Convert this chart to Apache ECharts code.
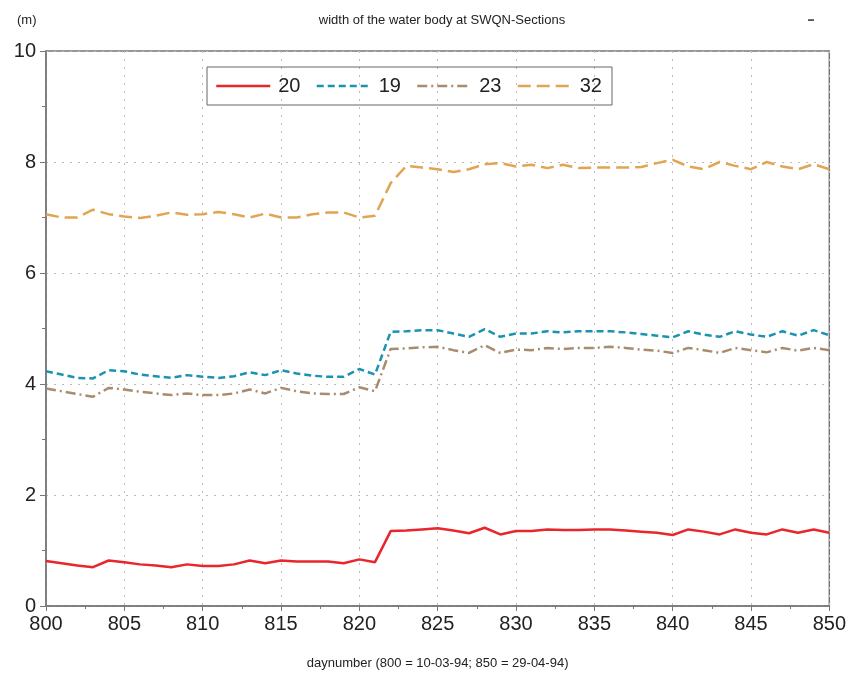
<!DOCTYPE html>
<html>
<head>
<meta charset="utf-8">
<script src="https://cdn.jsdelivr.net/npm/echarts@6/dist/echarts.min.js"></script>
<style>
  html, body { margin: 0; padding: 0; background: #fff; }
  #chart { width: 849px; height: 680px; }
</style>
</head>
<body>
<div id="chart"></div>
<script>
const days = [];
for (let d = 800; d <= 850; d++) days.push(d);

const s20 = [0.81, 0.77, 0.73, 0.70, 0.82, 0.79, 0.75, 0.73, 0.70, 0.75,
  0.72, 0.72, 0.75, 0.82, 0.77, 0.82, 0.80, 0.80, 0.80, 0.77,
  0.84, 0.79, 1.35, 1.36, 1.38, 1.40, 1.36, 1.31, 1.41, 1.29,
  1.35, 1.35, 1.38, 1.37, 1.37, 1.38, 1.38, 1.36, 1.34, 1.32,
  1.28, 1.38, 1.34, 1.29, 1.38, 1.32, 1.29, 1.38, 1.32, 1.38, 1.32];

const s19 = [4.23, 4.17, 4.11, 4.10, 4.25, 4.23, 4.17, 4.14, 4.11, 4.16,
  4.13, 4.11, 4.14, 4.21, 4.16, 4.25, 4.19, 4.15, 4.13, 4.13,
  4.27, 4.17, 4.94, 4.95, 4.97, 4.97, 4.91, 4.85, 4.99, 4.85,
  4.91, 4.91, 4.95, 4.93, 4.95, 4.95, 4.95, 4.93, 4.90, 4.87,
  4.84, 4.95, 4.89, 4.85, 4.95, 4.89, 4.85, 4.95, 4.87, 4.97, 4.88];

const s23 = [3.92, 3.87, 3.82, 3.77, 3.93, 3.90, 3.86, 3.83, 3.80, 3.83,
  3.80, 3.80, 3.83, 3.90, 3.83, 3.93, 3.87, 3.83, 3.82, 3.82,
  3.94, 3.87, 4.63, 4.64, 4.66, 4.67, 4.61, 4.56, 4.70, 4.56,
  4.62, 4.61, 4.65, 4.63, 4.65, 4.65, 4.67, 4.65, 4.62, 4.60,
  4.56, 4.65, 4.61, 4.56, 4.65, 4.61, 4.57, 4.65, 4.60, 4.65, 4.61];

const s32 = [7.06, 7.00, 7.00, 7.14, 7.06, 7.02, 6.99, 7.03, 7.09, 7.05,
  7.06, 7.10, 7.06, 7.00, 7.07, 7.00, 7.00, 7.06, 7.09, 7.09,
  7.00, 7.03, 7.62, 7.93, 7.90, 7.87, 7.82, 7.87, 7.96, 7.98,
  7.92, 7.95, 7.89, 7.95, 7.89, 7.90, 7.90, 7.90, 7.91, 7.98,
  8.04, 7.92, 7.87, 8.00, 7.93, 7.87, 8.00, 7.92, 7.87, 7.96, 7.87];

const seriesNames = ['20', '19', '23', '32'];
const seriesData = [s20, s19, s23, s32];
const seriesColors = ['#e8262b', '#1a93b0', '#a88c70', '#e0a552'];
const seriesDash = ['solid', [7, 4], [10, 4, 2, 4], [13, 6]];

const chart = echarts.init(document.getElementById('chart'));
const font = 'Liberation Sans, Arial, sans-serif';

chart.setOption({
  animation: false,
  backgroundColor: '#fff',
  title: [
    { text: 'width of the water body at SWQN-Sections', left: 437, top: 9, textAlign: 'center',
      textStyle: { fontSize: 13, fontWeight: 'normal', color: '#222', fontFamily: font } },
    { text: '(m)', left: 12, top: 9,
      textStyle: { fontSize: 13, fontWeight: 'normal', color: '#222', fontFamily: font } }
  ],
  graphic: [
    { type: 'text', left: 808, top: 16, style: { text: '▬', fontSize: 6, fill: '#555' } }
  ],
  legend: {
    left: 207, top: 67, width: 403, height: 41,
    padding: [9, 10, 9, 8],
    itemGap: 15,
    itemWidth: 54, itemHeight: 14,
    borderColor: '#666', borderWidth: 1,
    itemStyle: { opacity: 0 },
    lineStyle: { width: 2.5 },
    textStyle: { fontSize: 20, color: '#222', fontFamily: font, padding: [0, 0, 0, 3] },
    data: seriesNames
  },
  grid: { left: 46, right: 19, top: 51, bottom: 74, show: true, borderColor: '#777', borderWidth: 1.5 },
  xAxis: {
    type: 'value', min: 800, max: 850, interval: 5,
    name: 'daynumber (800 = 10-03-94; 850 = 29-04-94)',
    nameLocation: 'middle', nameGap: 51,
    nameTextStyle: { fontSize: 13, color: '#222', fontFamily: font },
    axisLine: { lineStyle: { color: '#777', width: 1.5 } },
    axisTick: { length: 5, lineStyle: { color: '#777' } },
    minorTick: { show: true, splitNumber: 2, length: 3, lineStyle: { color: '#777' } },
    axisLabel: { fontSize: 20, color: '#222', fontFamily: font, margin: 8 },
    splitLine: { lineStyle: { type: [2, 6], color: '#bbb' } }
  },
  yAxis: {
    type: 'value', min: 0, max: 10, interval: 2,
    axisLine: { show: true, lineStyle: { color: '#777', width: 1.5 } },
    axisTick: { show: true, length: 6, lineStyle: { color: '#777' } },
    minorTick: { show: true, splitNumber: 2, length: 4, lineStyle: { color: '#777' } },
    axisLabel: { fontSize: 20, color: '#222', fontFamily: font, margin: 10 },
    splitLine: { lineStyle: { type: [2, 6], color: '#bbb' } }
  },
  color: seriesColors,
  series: seriesNames.map((n, i) => ({
    name: n,
    type: 'line',
    showSymbol: false,
    symbol: 'none',
    data: days.map((d, j) => [d, seriesData[i][j]]),
    lineStyle: { width: 2.5, type: seriesDash[i], color: seriesColors[i] }
  }))
});
</script>
</body>
</html>
